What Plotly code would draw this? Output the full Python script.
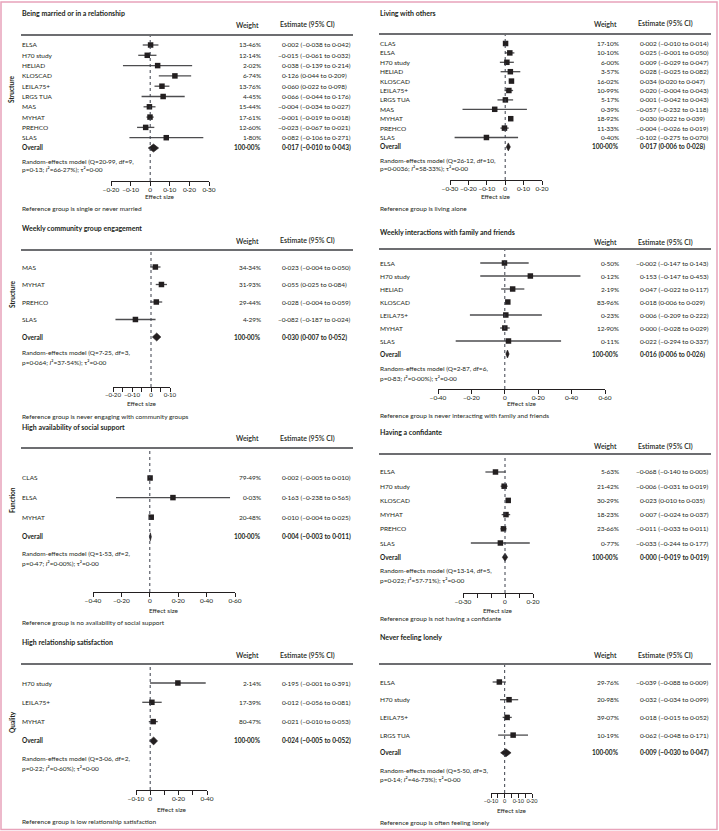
import plotly.graph_objects as go

W, H = 719, 831

# ---------------- data ----------------
married_title = "Being married or in a relationship"
married_studies = ["ELSA", "H70 study", "HELIAD", "KLOSCAD", "LEILA75+", "LRGS TUA", "MAS", "MYHAT", "PREHCO", "SLAS"]
married_weight = [13.46, 12.14, 2.02, 6.74, 13.76, 4.45, 15.44, 17.61, 12.60, 1.80]
married_est = [0.002, -0.015, 0.038, 0.126, 0.060, 0.066, -0.004, -0.001, -0.023, 0.082]
married_lo = [-0.038, -0.061, -0.139, 0.044, 0.022, -0.044, -0.034, -0.019, -0.067, -0.106]
married_hi = [0.042, 0.032, 0.214, 0.209, 0.098, 0.176, 0.027, 0.018, 0.021, 0.271]
married_overall = [0.017, -0.010, 0.043]
married_stats = ["Random-effects model (Q=20·99, df=9,", "p=0·13; <i>I</i>²=66·27%); τ²=0·00"]
married_ref = "Reference group is single or never married"
married_ticks = [-0.2, -0.1, 0, 0.1, 0.2, 0.3]
married_ticklabels = ["−0·20", "−0·10", "0", "0·10", "0·20", "0·30"]

living_title = "Living with others"
living_studies = ["CLAS", "ELSA", "H70 study", "HELIAD", "KLOSCAD", "LEILA75+", "LRGS TUA", "MAS", "MYHAT", "PREHCO", "SLAS"]
living_weight = [17.10, 10.10, 6.00, 3.57, 16.02, 10.99, 5.17, 0.39, 18.92, 11.33, 0.40]
living_est = [0.002, 0.025, 0.009, 0.028, 0.034, 0.020, 0.001, -0.057, 0.030, -0.004, -0.102]
living_lo = [-0.010, -0.001, -0.029, -0.025, 0.020, -0.004, -0.042, -0.232, 0.022, -0.026, -0.275]
living_hi = [0.014, 0.050, 0.047, 0.082, 0.047, 0.043, 0.043, 0.118, 0.039, 0.019, 0.070]
living_overall = [0.017, 0.006, 0.028]
living_stats = ["Random-effects model (Q=26·12, df=10,", "p=0·0036; <i>I</i>²=58·33%); τ²=0·00"]
living_ref = "Reference group is living alone"
living_ticks = [-0.3, -0.2, -0.1, 0, 0.1, 0.2]
living_ticklabels = ["−0·30", "−0·20", "−0·10", "0", "0·10", "0·20"]

community_title = "Weekly community group engagement"
community_studies = ["MAS", "MYHAT", "PREHCO", "SLAS"]
community_weight = [34.34, 31.93, 29.44, 4.29]
community_est = [0.023, 0.055, 0.028, -0.082]
community_lo = [-0.004, 0.025, -0.004, -0.187]
community_hi = [0.050, 0.084, 0.059, 0.024]
community_overall = [0.030, 0.007, 0.052]
community_stats = ["Random-effects model (Q=7·25, df=3,", "p=0·064; <i>I</i>²=37·54%); τ²=0·00"]
community_ref = "Reference group is never engaging with community groups"
community_ticks = [-0.2, -0.15, -0.1, -0.05, 0, 0.05, 0.1]
community_ticklabels = ["−0·20", "", "−0·10", "", "0", "", "0·10"]

family_title = "Weekly interactions with family and friends"
family_studies = ["ELSA", "H70 study", "HELIAD", "KLOSCAD", "LEILA75+", "MYHAT", "SLAS"]
family_weight = [0.50, 0.12, 2.19, 83.96, 0.23, 12.90, 0.11]
family_est = [-0.002, 0.153, 0.047, 0.018, 0.006, 0.000, 0.022]
family_lo = [-0.147, -0.147, -0.022, 0.006, -0.209, -0.028, -0.294]
family_hi = [0.143, 0.453, 0.117, 0.029, 0.222, 0.029, 0.337]
family_overall = [0.016, 0.006, 0.026]
family_stats = ["Random-effects model (Q=2·87, df=6,", "p=0·83; <i>I</i>²=0·00%); τ²=0·00"]
family_ref = "Reference group is never interacting with family and friends"
family_ticks = [-0.4, -0.2, 0, 0.2, 0.4, 0.6]
family_ticklabels = ["−0·40", "−0·20", "0", "0·20", "0·40", "0·60"]

support_title = "High availability of social support"
support_studies = ["CLAS", "ELSA", "MYHAT"]
support_weight = [79.49, 0.03, 20.48]
support_est = [0.002, 0.163, 0.010]
support_lo = [-0.005, -0.238, -0.004]
support_hi = [0.010, 0.565, 0.025]
support_overall = [0.004, -0.003, 0.011]
support_stats = ["Random-effects model (Q=1·53, df=2,", "p=0·47; <i>I</i>²=0·00%); τ²=0·00"]
support_ref = "Reference group is no availability of social support"
support_ticks = [-0.4, -0.2, 0, 0.2, 0.4, 0.6]
support_ticklabels = ["−0·40", "−0·20", "0", "0·20", "0·40", "0·60"]

confidante_title = "Having a confidante"
confidante_studies = ["ELSA", "H70 study", "KLOSCAD", "MYHAT", "PREHCO", "SLAS"]
confidante_weight = [5.63, 21.42, 30.29, 18.23, 23.66, 0.77]
confidante_est = [-0.068, -0.006, 0.023, 0.007, -0.011, -0.033]
confidante_lo = [-0.140, -0.031, 0.010, -0.024, -0.033, -0.244]
confidante_hi = [0.005, 0.019, 0.035, 0.037, 0.011, 0.177]
confidante_overall = [0.000, -0.019, 0.019]
confidante_stats = ["Random-effects model (Q=13·14, df=5,", "p=0·022; <i>I</i>²=57·71%); τ²=0·00"]
confidante_ref = "Reference group is not having a confidante"
confidante_ticks = [-0.3, -0.2, -0.1, 0, 0.1, 0.2]
confidante_ticklabels = ["−0·30", "", "", "0", "", "0·20"]

satisfaction_title = "High relationship satisfaction"
satisfaction_studies = ["H70 study", "LEILA75+", "MYHAT"]
satisfaction_weight = [2.14, 17.39, 80.47]
satisfaction_est = [0.195, 0.012, 0.021]
satisfaction_lo = [-0.001, -0.056, -0.010]
satisfaction_hi = [0.391, 0.081, 0.053]
satisfaction_overall = [0.024, -0.005, 0.052]
satisfaction_stats = ["Random-effects model (Q=3·06, df=2,", "p=0·22; <i>I</i>²=0·60%); τ²=0·00"]
satisfaction_ref = "Reference group is low relationship satisfaction"
satisfaction_ticks = [-0.1, 0, 0.1, 0.2, 0.3, 0.4]
satisfaction_ticklabels = ["−0·10", "0", "", "0·20", "", "0·40"]

lonely_title = "Never feeling lonely"
lonely_studies = ["ELSA", "H70 study", "LEILA75+", "LRGS TUA"]
lonely_weight = [29.76, 20.98, 39.07, 10.19]
lonely_est = [-0.039, 0.032, 0.018, 0.062]
lonely_lo = [-0.088, -0.034, -0.015, -0.048]
lonely_hi = [0.009, 0.099, 0.052, 0.171]
lonely_overall = [0.009, -0.030, 0.047]
lonely_stats = ["Random-effects model (Q=5·50, df=3,", "p=0·14; <i>I</i>²=46·73%); τ²=0·00"]
lonely_ref = "Reference group is often feeling lonely"
lonely_ticks = [-0.1, -0.05, 0, 0.05, 0.1, 0.15, 0.2]
lonely_ticklabels = ["−0·10", "", "0", "", "0·10", "", "0·20"]

group_labels = ["Structure", "Structure", "Function", "Quality"]

panels_data = [
    (married_title, married_studies, married_weight, married_est, married_lo, married_hi, married_overall, married_stats, married_ref, married_ticks, married_ticklabels),
    (living_title, living_studies, living_weight, living_est, living_lo, living_hi, living_overall, living_stats, living_ref, living_ticks, living_ticklabels),
    (community_title, community_studies, community_weight, community_est, community_lo, community_hi, community_overall, community_stats, community_ref, community_ticks, community_ticklabels),
    (family_title, family_studies, family_weight, family_est, family_lo, family_hi, family_overall, family_stats, family_ref, family_ticks, family_ticklabels),
    (support_title, support_studies, support_weight, support_est, support_lo, support_hi, support_overall, support_stats, support_ref, support_ticks, support_ticklabels),
    (confidante_title, confidante_studies, confidante_weight, confidante_est, confidante_lo, confidante_hi, confidante_overall, confidante_stats, confidante_ref, confidante_ticks, confidante_ticklabels),
    (satisfaction_title, satisfaction_studies, satisfaction_weight, satisfaction_est, satisfaction_lo, satisfaction_hi, satisfaction_overall, satisfaction_stats, satisfaction_ref, satisfaction_ticks, satisfaction_ticklabels),
    (lonely_title, lonely_studies, lonely_weight, lonely_est, lonely_lo, lonely_hi, lonely_overall, lonely_stats, lonely_ref, lonely_ticks, lonely_ticklabels),
]

# ---------------- layout geometry (pixels) ----------------
geo = [
    dict(col=0, title=13, head=25, hline=35, first=45, sp=10.3, stats=(161, 170), axis=181, eff=197, ref=208, ax=(111, 209), tfs=6.5),
    dict(col=1, title=13, head=24, hline=34, first=43.5, sp=9.4, stats=(160, 169), axis=180, eff=196, ref=208, ax=(450, 542), tfs=6.5),
    dict(col=0, title=228, head=241, hline=250, first=267, sp=17.5, stats=(352, 362), axis=387, eff=404, ref=416, ax=(113, 170), tfs=6.2),
    dict(col=1, title=232, head=242, hline=249, first=263, sp=13.0, stats=(368, 378), axis=389, eff=404, ref=415, ax=(438, 605), tfs=6.5),
    dict(col=0, title=427, head=438, hline=448, first=478, sp=19.6, stats=(553, 563), axis=592, eff=610, ref=622, ax=(93, 235), tfs=6.5),
    dict(col=1, title=432, head=446, hline=454, first=472, sp=14.2, stats=(570, 580), axis=593, eff=610, ref=618, ax=(463, 533), tfs=6.5),
    dict(col=0, title=642, head=655, hline=664, first=683, sp=19.3, stats=(758, 768), axis=790, eff=809, ref=821, ax=(136, 207), tfs=6.5),
    dict(col=1, title=637, head=655, hline=664, first=682, sp=17.7, stats=(770, 779), axis=793, eff=810, ref=822, ax=(491, 532), tfs=5.6),
]
group_pos = [90, 295, 500, 722]

FONT = "Lato"
TXT = "#231f20"
FS = 6.5
COL_OFF = [0, 358]


def px(x):
    return x / W


def py(y):
    return 1 - y / H


def f3(v):
    s = f"{abs(v):.3f}".replace(".", "·")
    return ("−" if v < 0 else "") + s


def est_text(e, lo, hi):
    return f"{f3(e)} ({f3(lo)} to {f3(hi)})"


def w_text(w):
    return f"{w:.2f}".replace(".", "·") + "%"


fig = go.Figure()
annotations = []
shapes = []
layout_axes = {}


def ann(text, x, y, xref="paper", yref="paper", xanchor="left", size=FS, bold=False, weight=None, angle=0):
    font = dict(family=FONT, size=size, color=TXT)
    if weight:
        font["weight"] = weight
    annotations.append(dict(
        text=f"<b>{text}</b>" if bold else text,
        x=x, y=y, xref=xref, yref=yref, xanchor=xanchor, yanchor="middle",
        showarrow=False, font=font, textangle=angle, borderpad=0,
    ))


for k, (pd_, g) in enumerate(zip(panels_data, geo), start=1):
    title, studies, weight, est, lo, hi, overall, stats, ref, ticks, ticklabels = pd_
    off = COL_OFF[g["col"]]
    xname = "x" if k == 1 else f"x{k}"
    yname = "y" if k == 1 else f"y{k}"
    xkey = "xaxis" if k == 1 else f"xaxis{k}"
    ykey = "yaxis" if k == 1 else f"yaxis{k}"
    n = len(studies)
    sp = g["sp"]
    ybot = (g["axis"] - g["first"]) / sp
    ytop = (g["hline"] - g["first"]) / sp

    layout_axes[xkey] = dict(
        domain=[px(g["ax"][0]), px(g["ax"][1])], range=[ticks[0], ticks[-1]],
        anchor=yname, showline=True, linecolor=TXT, linewidth=1,
        ticks="outside", ticklen=4, tickwidth=1, tickcolor=TXT, tickangle=0,
        ticklabelstandoff=-2,
        tickmode="array", tickvals=ticks, ticktext=ticklabels,
        tickfont=dict(family=FONT, size=g["tfs"], color=TXT),
        showgrid=False, zeroline=False, fixedrange=True, automargin=False,
    )
    layout_axes[ykey] = dict(
        domain=[py(g["axis"]), py(g["hline"])], range=[ybot, ytop],
        anchor=xname, visible=False, showgrid=False, zeroline=False, fixedrange=True,
    )

    rows = list(range(n))
    fig.add_trace(go.Scatter(
        x=est, y=rows, xaxis=xname, yaxis=yname, mode="markers",
        marker=dict(symbol="square", size=5.5, color=TXT),
        error_x=dict(type="data", symmetric=False,
                     array=[h - e for h, e in zip(hi, est)],
                     arrayminus=[e - l for e, l in zip(est, lo)],
                     width=0, thickness=1.3, color="#4d4d4f"),
        cliponaxis=False, showlegend=False, hoverinfo="skip",
    ))
    oe, ol, oh = overall
    hh = 4.0 / sp
    fig.add_trace(go.Scatter(
        x=[ol, oe, oh, oe, ol], y=[n, n - hh, n, n + hh, n], xaxis=xname, yaxis=yname,
        mode="lines", fill="toself", fillcolor=TXT, line=dict(color=TXT, width=0.6),
        cliponaxis=False, showlegend=False, hoverinfo="skip",
    ))

    # zero reference line
    shapes.append(dict(type="line", xref=xname, yref=f"{yname} domain", x0=0, x1=0, y0=0, y1=1,
                       line=dict(color="#3b3f4a", width=1, dash="dot")))
    # header rule
    shapes.append(dict(type="line", xref="paper", yref="paper",
                       x0=px(21 + off), x1=px(353 + off), y0=py(g["hline"]), y1=py(g["hline"]),
                       line=dict(color="#6d6e71", width=2)))

    ann(title, px(21 + off), py(g["title"]), bold=True, size=7)
    ann("Weight", px(260 + off), py(g["head"]), xanchor="right", weight=600, size=7)
    ann("Estimate (95% CI)", px(279 + off), py(g["head"]), weight=600, size=7)

    for i in range(n):
        ann(studies[i], px(21 + off), i, yref=yname)
        ann(w_text(weight[i]), px(262 + off), i, yref=yname, xanchor="right")
        t = est_text(est[i], lo[i], hi[i])
        xs = 281 + off - (4.0 if t.startswith("−") else 0)
        ann(t, px(xs), i, yref=yname)
    ann("Overall", px(21 + off), n, yref=yname, bold=True)
    ann(w_text(100.0), px(262 + off), n, yref=yname, xanchor="right", bold=True)
    t = est_text(oe, ol, oh)
    ann(t, px(281 + off - (4.0 if t.startswith("−") else 0)), n, yref=yname, bold=True)

    ann(stats[0], px(21 + off), py(g["stats"][0]))
    ann(stats[1], px(21 + off), py(g["stats"][1]))
    ann("Effect size", px((g["ax"][0] + g["ax"][1]) / 2), py(g["eff"]), xanchor="center")
    ann(ref, px(21 + off), py(g["ref"]))

for lab, yp in zip(group_labels, group_pos):
    ann(lab, px(12), py(yp), xanchor="center", bold=True, angle=-90)

# outer pink frame
shapes.append(dict(type="rect", xref="paper", yref="paper", x0=px(1), x1=px(717), y0=py(829.5), y1=py(2),
                   line=dict(color="#e8a3ba", width=1.5)))

fig.update_layout(
    width=W, height=H, margin=dict(l=0, r=0, t=0, b=0), autosize=False,
    paper_bgcolor="white", plot_bgcolor="rgba(0,0,0,0)",
    showlegend=False, annotations=annotations, shapes=shapes,
    font=dict(family=FONT, size=FS, color=TXT),
    **layout_axes,
)

fig.write_html(
    "out.html",
    config={"responsive": False, "displayModeBar": False},
    post_script="document.body.style.margin='0';document.body.style.overflow='hidden';",
)
